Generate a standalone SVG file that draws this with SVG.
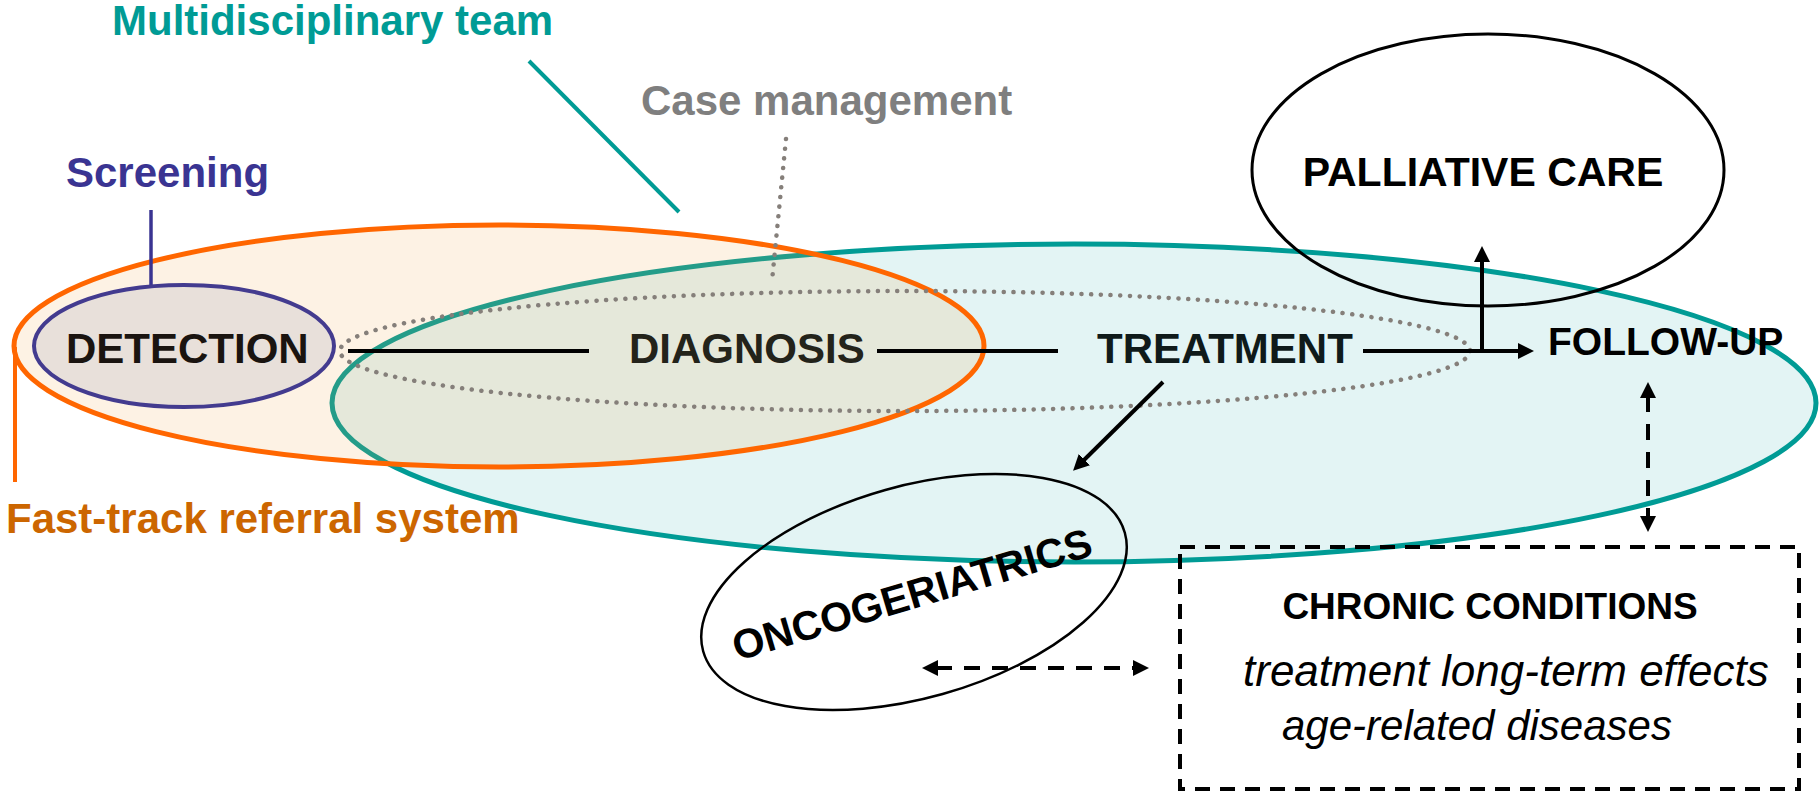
<svg xmlns="http://www.w3.org/2000/svg" width="1819" height="793" viewBox="0 0 1819 793">
<style>
.t{font-family:"Liberation Sans",Arial,sans-serif;font-weight:bold}
.i{font-family:"Liberation Sans",Arial,sans-serif;font-style:italic;fill:#000}
.conn{stroke:#000;stroke-width:4;fill:none}
.dash{stroke-dasharray:16 12}
.dots{fill:none;stroke:#857F7A;stroke-width:4.5;stroke-linecap:round;stroke-dasharray:0.1 9.6}
</style>
<defs>
<marker id="arr" viewBox="0 0 16 16" refX="2" refY="8" markerWidth="16" markerHeight="16" markerUnits="userSpaceOnUse" orient="auto-start-reverse">
<path d="M0,0 L16,8 L0,16 z" fill="#000" stroke="none"/>
</marker>
</defs>
<rect width="1819" height="793" fill="#fff"/>

<g id="multidisciplinary-team">
<ellipse cx="1074" cy="403" rx="742" ry="159" fill="#E3F4F4" stroke="#009B95" stroke-width="5"/>
<line x1="529" y1="61" x2="679" y2="212" stroke="#009B95" stroke-width="4"/>
<text class="t" x="112" y="35" font-size="42" fill="#009B95">Multidisciplinary team</text>
</g>

<g id="fast-track">
<ellipse cx="499" cy="346" rx="485" ry="121" fill="#F0A848" fill-opacity="0.15" stroke="#FF6600" stroke-width="5"/>
<line x1="15" y1="347" x2="15" y2="482" stroke="#FF6600" stroke-width="4"/>
<text class="t" x="6" y="533" font-size="42" fill="#CC6600">Fast-track referral system</text>
</g>

<g id="palliative-care">
<ellipse cx="1488" cy="170" rx="236" ry="136" fill="none" stroke="#000" stroke-width="3"/>
<text class="t" x="1483" y="186" font-size="41" fill="#000" text-anchor="middle">PALLIATIVE CARE</text>
</g>

<g id="case-management">
<ellipse cx="905" cy="351" rx="565" ry="60" fill="#888" fill-opacity="0.1" class="dots"/>
<line x1="786" y1="139" x2="772" y2="281" class="dots"/>
<text class="t" x="641" y="115" font-size="42" fill="#7F7F7F">Case management</text>
</g>

<g id="screening">
<line x1="151" y1="210" x2="151" y2="285" stroke="#3A3492" stroke-width="3.5"/>
<text class="t" x="66" y="187" font-size="42" fill="#3A3492">Screening</text>
</g>

<g id="detection">
<ellipse cx="184" cy="346" rx="150" ry="61" fill="#E8E0DA" stroke="#433B8F" stroke-width="4"/>
<text class="t" x="66" y="363" font-size="42" fill="#1A1410">DETECTION</text>
</g>

<g id="diagnosis">
<text class="t" x="629" y="363" font-size="42" fill="#23231A">DIAGNOSIS</text>
</g>

<g id="treatment">
<text class="t" x="1097" y="363" font-size="42" fill="#0F1A1A">TREATMENT</text>
</g>

<g id="follow-up">
<text class="t" x="1548" y="355" font-size="39" fill="#000">FOLLOW-UP</text>
</g>

<g id="oncogeriatrics">
<ellipse cx="0" cy="0" rx="219" ry="106" transform="translate(914,592) rotate(-15.7)" fill="none" stroke="#000" stroke-width="2.5"/>
<text class="t" x="0" y="0" font-size="41" fill="#000" text-anchor="middle" transform="translate(916,608) rotate(-16.5)">ONCOGERIATRICS</text>
</g>

<g id="chronic-conditions">
<rect x="1180" y="547" width="619" height="242" fill="none" stroke="#000" stroke-width="4" stroke-dasharray="15 10"/>
<text class="t" x="1490" y="619" font-size="37" fill="#000" text-anchor="middle">CHRONIC CONDITIONS</text>
<text class="i" x="1243" y="686" font-size="44">treatment long-term effects</text>
<text class="i" x="1282" y="740" font-size="42">age-related diseases</text>
</g>

<g id="connectors">
<line class="conn" x1="348" y1="351" x2="589" y2="351" stroke="#1E1E14"/>
<line class="conn" x1="877" y1="351" x2="1058" y2="351"/>
<line class="conn" x1="1363" y1="351" x2="1520" y2="351" marker-end="url(#arr)"/>
<line class="conn" x1="1482" y1="353" x2="1482" y2="260" marker-end="url(#arr)"/>
<line class="conn" x1="1163" y1="382" x2="1083" y2="461" marker-end="url(#arr)"/>
<line class="conn dash" x1="1648" y1="396" x2="1648" y2="518" marker-start="url(#arr)" marker-end="url(#arr)"/>
<line class="conn dash" x1="936" y1="668" x2="1135" y2="668" marker-start="url(#arr)" marker-end="url(#arr)"/>
</g>
</svg>
